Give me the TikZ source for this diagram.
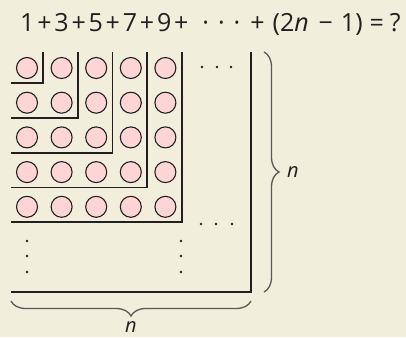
\documentclass[tikz,border=0pt]{standalone}
\usepackage{fontspec}
\setmainfont{Open Sans}
\usetikzlibrary{decorations.pathreplacing}
\definecolor{bg}{RGB}{242,238,220}
\definecolor{pinkfill}{RGB}{253,213,213}
\definecolor{ink}{RGB}{35,31,32}
\definecolor{bracecol}{RGB}{90,88,85}
\newcommand{\pk}{\kern2.8pt}
\begin{document}
\begin{tikzpicture}[x=1pt,y=-1pt,
  dot/.style={circle,draw=ink,fill=pinkfill,line width=1.1pt,minimum size=21pt,inner sep=0pt},
  lline/.style={draw=ink,line width=1.8pt},
  smalldot/.style={fill=ink},
  bracestyle/.style={draw=bracecol,line width=1.3pt,decorate,decoration={brace,amplitude=15pt}},
  lab/.style={font=\fontsize{20}{24}\selectfont\itshape,text=ink,inner sep=0pt}]
\fill[bg] (0,0) rectangle (406,337);
\useasboundingbox (0,0) rectangle (406,337);
\node[anchor=base west,text=ink,inner sep=0pt,font=\fontsize{25}{29}\selectfont] (title) at (20,32)
  {1\pk+\pk3\pk+\pk5\pk+\pk7\pk+\pk9\pk+\kern14pt·\kern9pt·\kern9pt·\kern10pt+\kern8pt(2\textit{n}\kern10pt−\kern8pt1)\kern7pt=\kern6pt?};
\foreach \r in {1,...,5}{
  \foreach \c in {1,...,5}{
    \node[dot] (c-\r-\c) at ({27+34.6*(\c-1)},{68+34.7*(\r-1)}) {};
  }
}
% L-shaped gnomon lines
\foreach \k in {0,...,4}{
  \draw[lline] ({43+34.7*\k},52) -- ({43+34.7*\k},{83+34.8*\k}) -- (11,{83+34.8*\k});
}
\draw[lline] (251,52) -- (251,292) -- (11,292);
% dots
\foreach \x in {202,217,231}{\fill[smalldot] (\x,67) circle (1.3);}
\foreach \x in {201,216,232}{\fill[smalldot] (\x,224) circle (1.3);}
\foreach \y in {241,256,272}{\fill[smalldot] (27,\y) circle (1.3); \fill[smalldot] (181,\y) circle (1.3);}
% braces
\coordinate (rb1) at (264,52);
\coordinate (rb2) at (264,292);
\draw[bracestyle] (rb1) -- (rb2);
\node[lab,anchor=base west] (nr) at (287,177) {n};
\coordinate (bb1) at (11,301);
\coordinate (bb2) at (251,301);
\draw[bracestyle] (bb2) -- (bb1);
\node[lab,anchor=base] (nb) at (131,332) {n};
\end{tikzpicture}
\end{document}
